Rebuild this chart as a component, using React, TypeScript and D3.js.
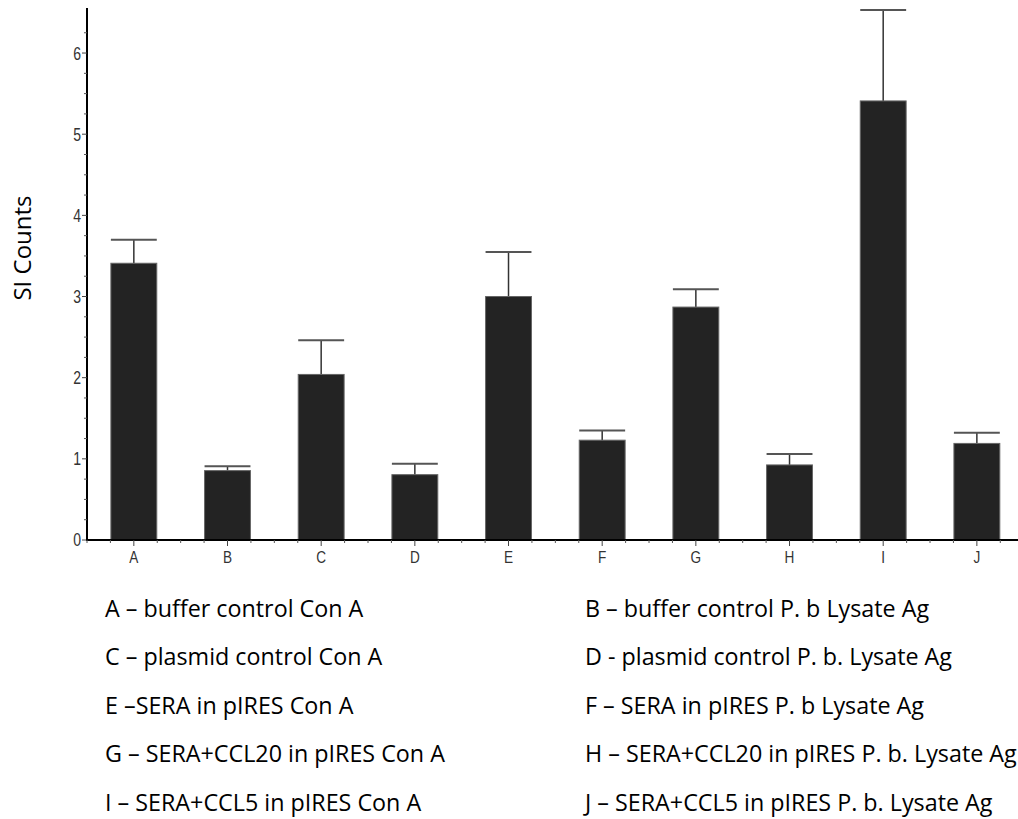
import React from "react";
import * as d3 from "d3";

const categories = ["A", "B", "C", "D", "E", "F", "G", "H", "I", "J"];
const means = [3.41, 0.855, 2.04, 0.805, 3.0, 1.23, 2.87, 0.925, 5.41, 1.19];
const upperErrors = [3.7, 0.91, 2.46, 0.94, 3.55, 1.35, 3.09, 1.06, 6.53, 1.32];
const yTicks = [0, 1, 2, 3, 4, 5, 6];
const legendLabels = [
  "A \u2013 buffer control Con A",
  "B \u2013 buffer control P. b Lysate Ag",
  "C \u2013 plasmid control Con A",
  "D - plasmid control P. b. Lysate Ag",
  "E \u2013SERA in pIRES Con A",
  "F \u2013 SERA in pIRES P. b Lysate Ag",
  "G \u2013 SERA+CCL20 in pIRES Con A",
  "H \u2013 SERA+CCL20 in pIRES P. b. Lysate Ag",
  "I \u2013 SERA+CCL5 in pIRES Con A",
  "J \u2013 SERA+CCL5 in pIRES P. b. Lysate Ag",
];

const W = 1018;
const H = 819;
const x0 = 87;
const y0 = 540;
const yTop = 8;

export default function App() {
  const x = d3.scaleBand<string>().domain(categories).range([x0, 1023.7]).paddingInner(0).paddingOuter(0);
  const y = d3.scaleLinear().domain([0, 6.555]).range([y0, yTop]);
  const step = x.step();
  const barW = step * 0.49;
  const minorY = d3.range(0, 6.5, 0.25).filter((v) => Math.abs(v - Math.round(v)) > 1e-6);
  const minorX = d3.range(0, categories.length * 4 + 1).filter((k) => k % 4 !== 2);
  const tickFont = "'Liberation Sans', Arial, sans-serif";
  const legendFont = "'Open Sans', sans-serif";

  return (
    <svg width={W} height={H} style={{ position: "absolute", left: 0, top: 0, background: "#fff" }}>
      {/* bars */}
      {categories.map((c, i) => {
        const cx = (x(c) as number) + step / 2;
        return (
          <g key={c}>
            <line x1={cx} x2={cx} y1={y(means[i])} y2={y(upperErrors[i])} stroke="#333" strokeWidth={1.5} />
            <line x1={cx - barW / 2} x2={cx + barW / 2} y1={y(upperErrors[i])} y2={y(upperErrors[i])} stroke="#555" strokeWidth={2} />
            <rect x={cx - barW / 2} y={y(means[i])} width={barW} height={y0 - y(means[i])} fill="#232323" stroke="#666" strokeWidth={1} />
          </g>
        );
      })}
      {/* y axis */}
      <line x1={x0} x2={x0} y1={yTop} y2={y0 + 1} stroke="#000" strokeWidth={2} />
      {minorY.map((v) => (
        <line key={"my" + v} x1={x0 - 3} x2={x0} y1={y(v)} y2={y(v)} stroke="#555" strokeWidth={1} />
      ))}
      {yTicks.map((v) => (
        <g key={"y" + v}>
          <line x1={x0 - 5} x2={x0} y1={y(v)} y2={y(v)} stroke="#444" strokeWidth={1} />
          <text transform={`translate(${x0 - 6},${y(v)}) scale(0.78,1)`} dy="0.36em" textAnchor="end" fontFamily={tickFont} fontSize={18} fill="#333">
            {v}
          </text>
        </g>
      ))}
      {/* x axis */}
      <line x1={x0 - 1} x2={W} y1={y0} y2={y0} stroke="#000" strokeWidth={2} />
      {minorX.map((k) => (
        <line key={"mx" + k} x1={x0 + (k * step) / 4} x2={x0 + (k * step) / 4} y1={y0} y2={y0 + 3} stroke="#555" strokeWidth={1} />
      ))}
      {categories.map((c) => {
        const cx = (x(c) as number) + step / 2;
        return (
          <g key={"xt" + c}>
            <line x1={cx} x2={cx} y1={y0} y2={y0 + 6} stroke="#444" strokeWidth={1} />
            <text transform={`translate(${cx},563) scale(0.8,1)`} textAnchor="middle" fontFamily={tickFont} fontSize={17} fill="#333">
              {c}
            </text>
          </g>
        );
      })}
      {/* y title */}
      <text transform="translate(31,248) rotate(-90)" textAnchor="middle" fontFamily={legendFont} fontSize={24} fill="#000">
        SI Counts
      </text>
      {/* legend */}
      {legendLabels.map((t, i) => {
        const col = i % 2;
        const row = Math.floor(i / 2);
        return (
          <text key={t} x={col === 0 ? 105 : 585} y={617 + row * 48.4} fontFamily={legendFont} fontSize={23.3} fill="#000">
            {t}
          </text>
        );
      })}
    </svg>
  );
}
